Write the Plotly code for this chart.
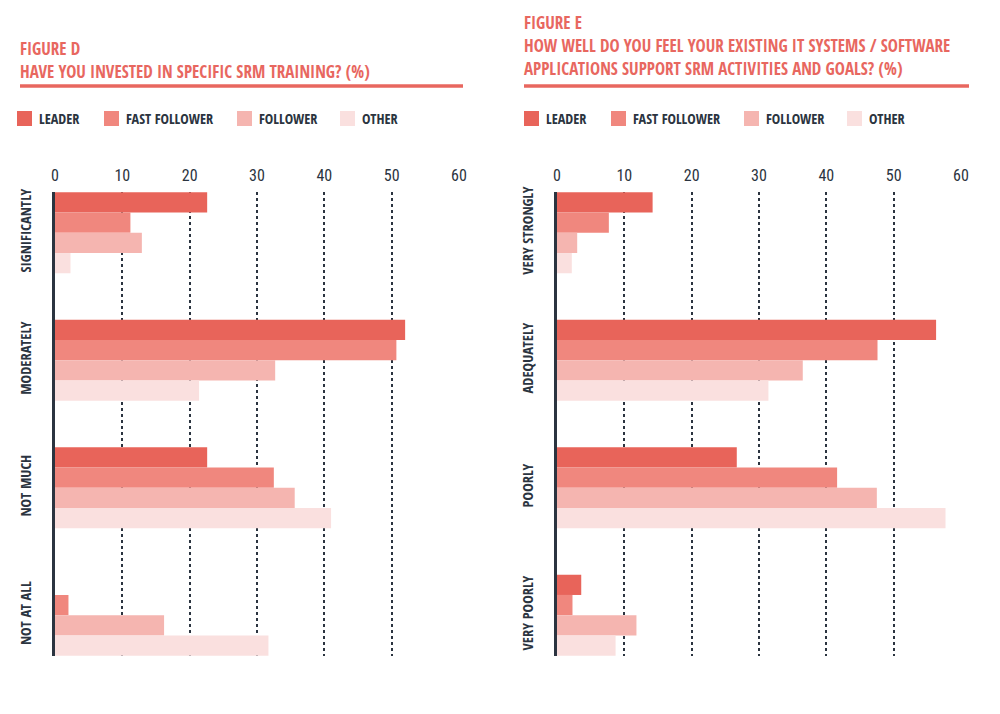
import plotly.graph_objects as go

series = ["LEADER", "FAST FOLLOWER", "FOLLOWER", "OTHER"]
colors = ["#e8645a", "#f0877e", "#f5b5b0", "#fae0df"]

cats_d = ["SIGNIFICANTLY", "MODERATELY", "NOT MUCH", "NOT AT ALL"]
leader_d = [22.6, 52.0, 22.6, 0]
fast_d = [11.2, 50.7, 32.5, 2.0]
follower_d = [12.9, 32.7, 35.6, 16.2]
other_d = [2.3, 21.4, 41.0, 31.7]

cats_e = ["VERY STRONGLY", "ADEQUATELY", "POORLY", "VERY POORLY"]
leader_e = [14.2, 56.3, 26.7, 3.6]
fast_e = [7.7, 47.6, 41.6, 2.3]
follower_e = [3.0, 36.5, 47.5, 11.8]
other_e = [2.2, 31.4, 57.7, 8.7]

tickvals = [0, 10, 20, 30, 40, 50, 60]

title_d = ["FIGURE D", "HAVE YOU INVESTED IN SPECIFIC SRM TRAINING? (%)"]
title_e = ["FIGURE E", "HOW WELL DO YOU FEEL YOUR EXISTING IT SYSTEMS / SOFTWARE",
           "APPLICATIONS SUPPORT SRM ACTIVITIES AND GOALS? (%)"]

FONT = "Open Sans Condensed, Roboto Condensed, DejaVu Sans Condensed, sans-serif"
TICKFONT = "Roboto Condensed, Open Sans Condensed, sans-serif"
DARK = "#2b3440"
RED = "#e8675f"
W, H = 1000, 714
OFF = 8  # page body margin

fig = go.Figure()

data_d = [leader_d, fast_d, follower_d, other_d]
data_e = [leader_e, fast_e, follower_e, other_e]

for i, name in enumerate(series):
    fig.add_trace(go.Bar(y=cats_d, x=data_d[i], orientation="h", name=name,
                         marker=dict(color=colors[i], line=dict(width=0)),
                         xaxis="x", yaxis="y", showlegend=False))
for i, name in enumerate(series):
    fig.add_trace(go.Bar(y=cats_e, x=data_e[i], orientation="h", name=name,
                         marker=dict(color=colors[i], line=dict(width=0)),
                         xaxis="x2", yaxis="y2", showlegend=False))

def px_x(p):
    return (p - OFF) / W

def px_y(p):
    return 1 - (p - OFF) / H

ydom = [px_y(656), px_y(192)]

xaxis_common = dict(range=[0, 60], side="top", tickvals=tickvals, automargin=False,
                    showgrid=True, gridcolor=DARK, griddash="dot", gridwidth=1.5,
                    zeroline=False, showline=False, ticks="",
                    ticklabelstandoff=7,
                    tickfont=dict(family=TICKFONT, size=16, color=DARK, weight="normal"))
yaxis_common = dict(range=[3.32, -0.32], showgrid=False, zeroline=False, automargin=False,
                    showline=True, linecolor=DARK, linewidth=2.5,
                    tickangle=-90, ticks="", ticklabelstandoff=15,
                    tickfont=dict(family=FONT, size=14.5, color=DARK, weight="bold"))

fig.update_layout(
    width=W, height=H,
    margin=dict(l=0, r=0, t=0, b=0),
    paper_bgcolor="white", plot_bgcolor="white",
    barmode="group", bargap=0.365, bargroupgap=0,
    xaxis=dict(domain=[px_x(55), px_x(459)], anchor="y", **xaxis_common),
    yaxis=dict(domain=ydom, anchor="x", categoryorder="array", categoryarray=cats_d, **yaxis_common),
    xaxis2=dict(domain=[px_x(557), px_x(961)], anchor="y2", **xaxis_common),
    yaxis2=dict(domain=ydom, anchor="x2", categoryorder="array", categoryarray=cats_e, **yaxis_common),
)

annotations = []
shapes = []

# Titles
for j, t in enumerate(title_d):
    annotations.append(dict(text=t, x=px_x(18), y=px_y(48 + j * 23.5), xref="paper", yref="paper",
                            xanchor="left", yanchor="middle", showarrow=False,
                            font=dict(family=FONT, size=17, color=RED, weight="bold")))
for j, t in enumerate(title_e):
    annotations.append(dict(text=t, x=px_x(522), y=px_y(22 + j * 23.3), xref="paper", yref="paper",
                            xanchor="left", yanchor="middle", showarrow=False,
                            font=dict(family=FONT, size=17, color=RED, weight="bold")))

# Underlines
shapes.append(dict(type="line", xref="paper", yref="paper", x0=px_x(20), x1=px_x(463),
                   y0=px_y(86), y1=px_y(86), line=dict(color=RED, width=3.5)))
shapes.append(dict(type="line", xref="paper", yref="paper", x0=px_x(524), x1=px_x(969),
                   y0=px_y(86), y1=px_y(86), line=dict(color=RED, width=3.5)))

# Legends
leg_offsets = [0, 87, 220, 323]
for base in [17, 524]:
    for i, name in enumerate(series):
        x0 = base + leg_offsets[i]
        shapes.append(dict(type="rect", xref="paper", yref="paper",
                           x0=px_x(x0), x1=px_x(x0 + 15), y0=px_y(126), y1=px_y(111),
                           fillcolor=colors[i], line=dict(width=0)))
        annotations.append(dict(text=name, x=px_x(x0 + 20), y=px_y(118.5), xref="paper", yref="paper",
                                xanchor="left", yanchor="middle", showarrow=False,
                                font=dict(family=FONT, size=14.2, color=DARK, weight="bold")))

fig.update_layout(annotations=annotations, shapes=shapes)

fig.write_html("out.html")
